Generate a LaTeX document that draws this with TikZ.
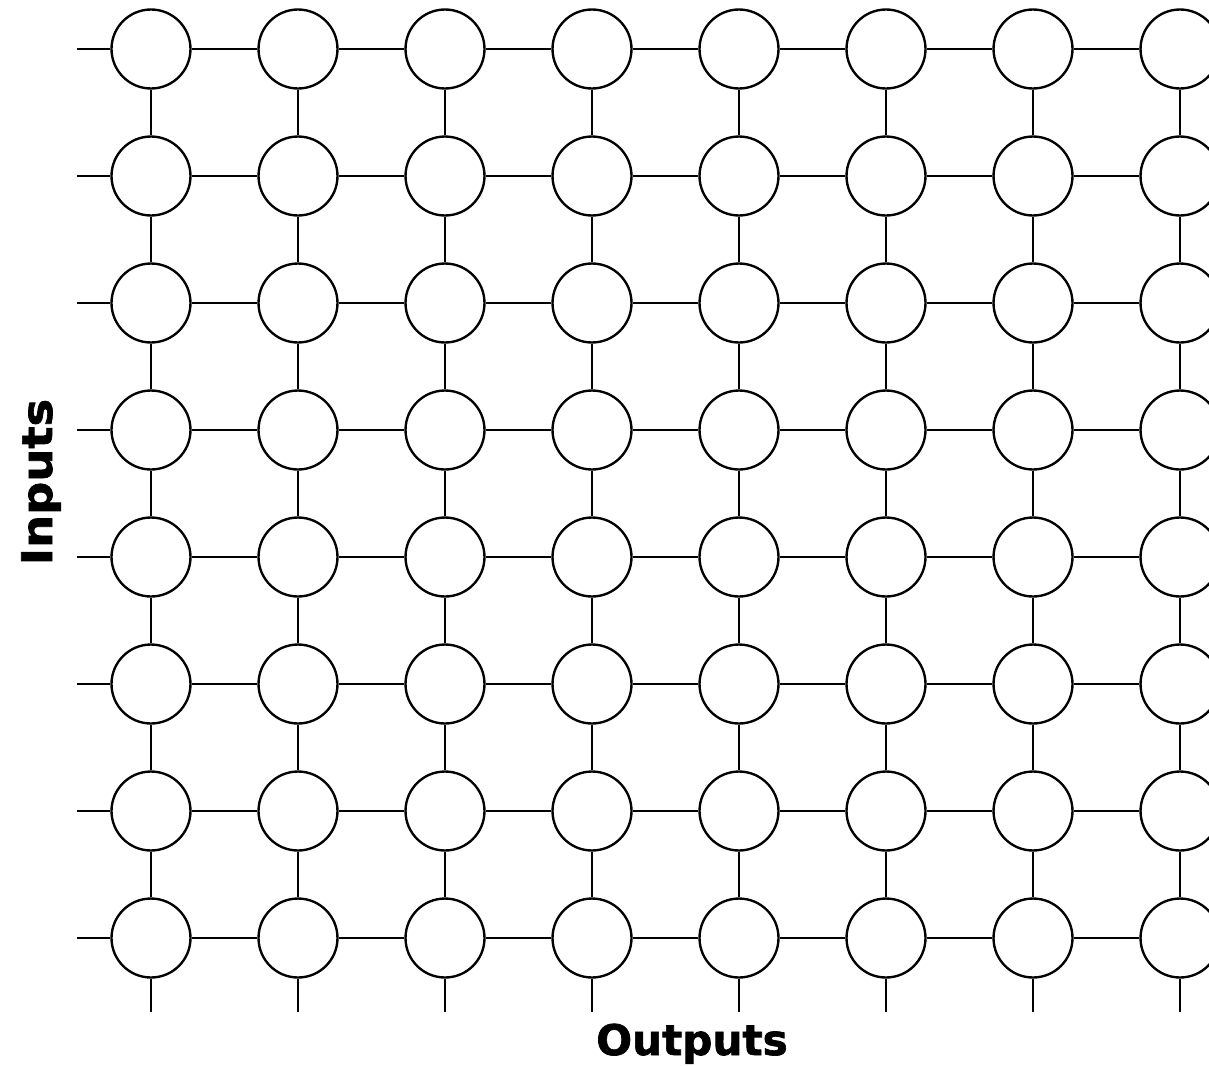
\documentclass[tikz,border=0pt]{standalone}
\usepackage{fontspec}
\setmainfont{DejaVu Sans}[BoldFeatures={FakeBold=1.6}]
\usetikzlibrary{positioning}

\begin{document}
\begin{tikzpicture}[x=0.02cm, y=-0.02cm, font=\bfseries\fontsize{24}{28}\selectfont]
\tikzset{cell/.style={circle, draw, line width=1.35pt, minimum size=1.58cm, inner sep=0pt}}
\clip (0,0) rectangle (1209,1065);

% grid of cells
\foreach \r in {1,...,8}
  \foreach \c in {1,...,8}
    \node[cell] (n\r\c) at ({151+147*(\c-1)}, {49+127*(\r-1)}) {};

% row links and input stubs
\foreach \r in {1,...,8} {
  \coordinate (in\r) at (77, {49+127*(\r-1)});
  \draw[line width=0.85pt] (in\r) -- (n\r1);
  \foreach \c [evaluate=\c as \d using int(\c+1)] in {1,...,7}
    \draw[line width=0.85pt] (n\r\c) -- (n\r\d);
}

% column links and output stubs
\foreach \c in {1,...,8} {
  \coordinate (out\c) at ({151+147*(\c-1)}, 1012);
  \draw[line width=0.85pt] (n8\c) -- (out\c);
  \foreach \r [evaluate=\r as \s using int(\r+1)] in {1,...,7}
    \draw[line width=0.85pt] (n\r\c) -- (n\s\c);
}

\node[anchor=base] (outlbl) at (692,1055) {Outputs};
\node[rotate=90, anchor=base, xscale=1.1] (inlbl) at (52,482) {Inputs};
\end{tikzpicture}
\end{document}
